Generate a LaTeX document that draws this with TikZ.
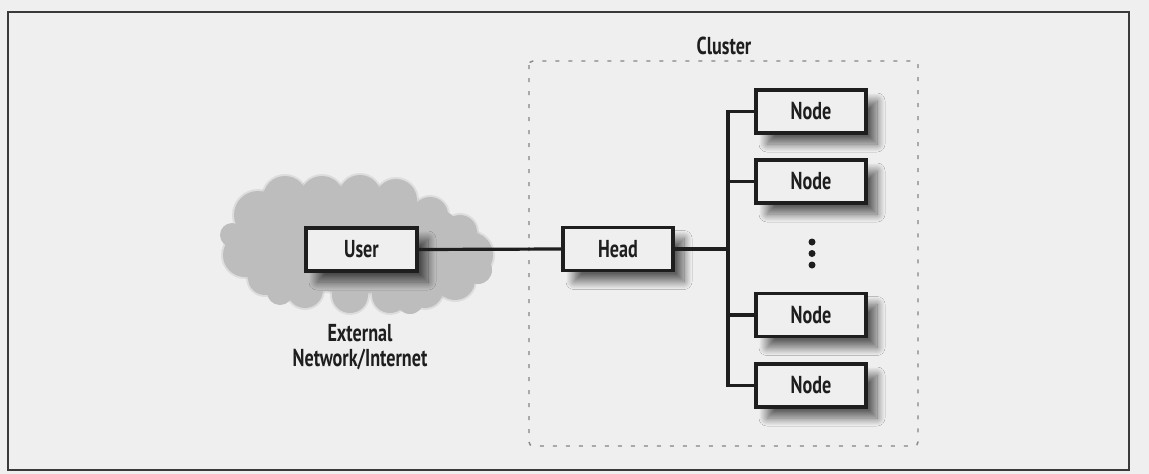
\documentclass[tikz,border=0pt]{standalone}
\usepackage{fontspec}
\setmainfont{PT Sans}[FakeStretch=0.74]
\usetikzlibrary{shadows.blur}

\definecolor{paper}{HTML}{EFEFEF}
\definecolor{cloudgray}{HTML}{BDBDBD}
\definecolor{ink}{HTML}{1E1E1E}
\definecolor{framegray}{HTML}{3A3A3A}
\definecolor{dashgray}{HTML}{858585}

\tikzset{
  label font/.style={font=\fontsize{24.5}{25}\selectfont\bfseries, text=ink},
  box/.style={draw=ink, line width=3.6pt, fill=paper, minimum width=110pt,
    minimum height=43pt, inner sep=0pt, label font,
    blur shadow={shadow xshift=11pt, shadow yshift=-11pt,
      shadow blur radius=8pt, shadow blur steps=16, shadow opacity=60}},
  wire/.style={draw=ink, line width=3.2pt},
  clusterline/.style={draw=dashgray, line width=1.4pt,
    dash pattern=on 4pt off 9pt, rounded corners=4pt},
  puff/.style={fill=cloudgray},
  dot/.style={fill=ink, circle, inner sep=0pt, minimum size=7pt},
}

\begin{document}
\begin{tikzpicture}[x=1pt, y=-1pt]
  % page background and outer frame
  \fill[paper] (0,0) rectangle (1149,474);
  \useasboundingbox (0,0) rectangle (1149,474);
  \draw[framegray, line width=1.5pt] (8,12) rectangle (1129,470);

  % cluster outline
  \draw[clusterline] (529,61) rectangle (918,446);
  \node[label font, anchor=base] (clusterlabel) at (724,54) {Cluster};

  % external network cloud: a soft rim, then the body
  \begin{scope}[opacity=0.35]
    \fill[puff] (358,248) ellipse [x radius=112, y radius=47];
    \foreach \cx/\cy/\r in {258/215/26, 285/198/24, 322/198/24, 360/196/23,
        396/200/23, 430/215/20, 460/232/19, 470/255/25, 455/280/22,
        425/290/20, 390/295/20, 350/295/20, 305/290/20, 265/278/19, 245/255/24}
      \fill[puff] (\cx,\cy) circle [radius=\r];
  \end{scope}
  \fill[puff] (358,248) ellipse [x radius=110, y radius=45];
  \foreach \cx/\cy/\r in {258/215/24, 285/198/22, 322/198/22, 360/196/21,
      396/200/21, 430/215/18, 460/232/17, 470/255/23, 455/280/20,
      425/290/18, 390/295/18, 350/295/18, 305/290/18, 265/278/17, 245/255/22,
      232/235/12, 442/225/14, 478/270/14, 410/300/14, 280/292/13}
    \fill[puff] (\cx,\cy) circle [radius=\r];
  \node[label font, align=center, anchor=base] (netlabel) at (360,366)
    {External\\Network/Internet};

  % machines
  \node[box, minimum width=111pt] (user) at (361.5,249.5) {User};
  \node[box] (head) at (618,249) {Head};
  \node[box] (n1) at (811,111.5) {Node};
  \node[box] (n2) at (811,181.5) {Node};
  \node[box] (n3) at (811,315) {Node};
  \node[box] (n4) at (811,385.5) {Node};

  % more nodes omitted
  \node[dot] (d1) at (812,242) {};
  \node[dot] (d2) at (812,253.5) {};
  \node[dot] (d3) at (812,265) {};

  % wiring
  \coordinate (bus) at (728,0);
  \draw[wire] (user.east) -- (head.west);
  \draw[wire] (head.east) -- (bus |- head.east);
  \draw[wire] (n1.west) -| (bus |- n4.west) -- (n4.west);
  \draw[wire] (n2.west) -- (bus |- n2.west);
  \draw[wire] (n3.west) -- (bus |- n3.west);
\end{tikzpicture}
\end{document}
